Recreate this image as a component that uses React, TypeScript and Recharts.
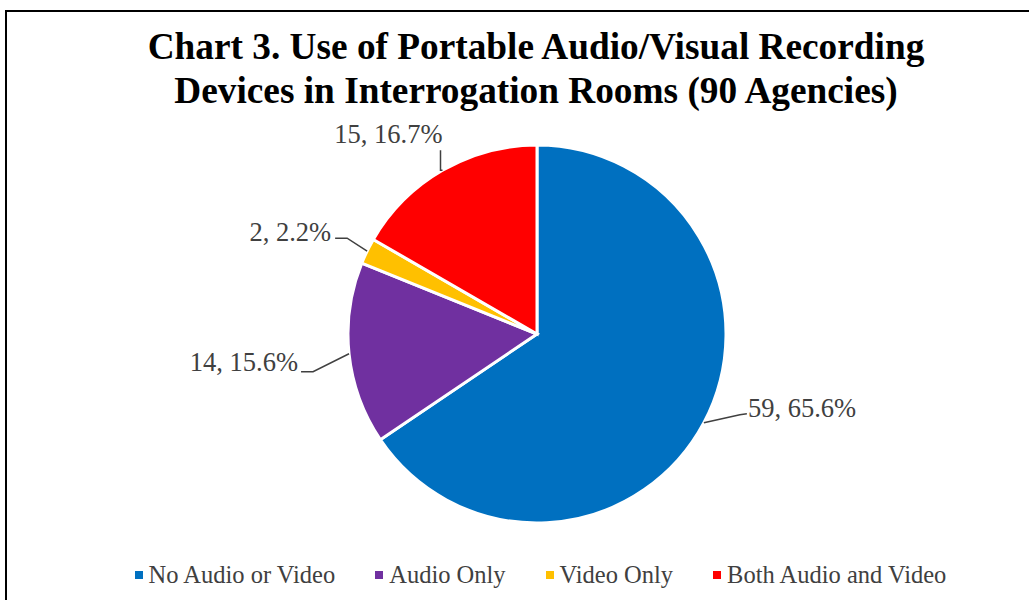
import React from 'react'
import { PieChart, Pie, Cell, Legend } from 'recharts'

const CATEGORIES = ['No Audio or Video', 'Audio Only', 'Video Only', 'Both Audio and Video']
const COUNTS = [59, 14, 2, 15]
const PERCENTS = ['65.6%', '15.6%', '2.2%', '16.7%']
const COLORS = ['#0070C0', '#7030A0', '#FFC000', '#FF0000']

// leader line / label placement relative to the slice's outer mid point
const LABEL_LAYOUT = [
  { leader: [[36, -8], [43, -9]], text: [44, -6], anchor: 'start' },
  { leader: [[-36, 18], [-48, 18]], text: [-51, 17], anchor: 'end' },
  { leader: [[-20, -13], [-32, -13]], text: [-36, -10], anchor: 'end' },
  { leader: [[-2, 0], [-2, -20]], text: [0, -27], anchor: 'end' },
]

const FONT = '"Liberation Serif", "Times New Roman", serif'

const data = CATEGORIES.map((name, i) => ({ name, value: COUNTS[i], pct: PERCENTS[i] }))

const RADIAN = Math.PI / 180

const renderLabel = (props: any) => {
  const { cx, cy, midAngle, outerRadius, index, value } = props
  const px = cx + outerRadius * Math.cos(-midAngle * RADIAN)
  const py = cy + outerRadius * Math.sin(-midAngle * RADIAN)
  const lay = LABEL_LAYOUT[index]
  const pts = [[px, py], ...lay.leader.map(([dx, dy]) => [px + dx, py + dy])]
  return (
    <g key={`lbl-${index}`}>
      <polyline
        points={pts.map(p => p.join(',')).join(' ')}
        fill="none"
        stroke="#404040"
        strokeWidth={1.5}
      />
      <text
        x={px + lay.text[0]}
        y={py + lay.text[1]}
        textAnchor={lay.anchor as any}
        fill="#404040"
        fontFamily={FONT}
        fontSize={26.5}
      >
        {`${value}, ${data[index].pct}`}
      </text>
    </g>
  )
}

const renderLegend = () => (
  <div style={{ display: 'flex', justifyContent: 'center', gap: 40, fontFamily: FONT, fontSize: 24.5, color: '#404040' }}>
    {CATEGORIES.map((c, i) => (
      <div key={c} style={{ display: 'flex', alignItems: 'center' }}>
        <span style={{ width: 8, height: 8, background: COLORS[i], marginRight: 6, display: 'inline-block' }} />
        <span>{c}</span>
      </div>
    ))}
  </div>
)

export default function App() {
  return (
    <div style={{ position: 'fixed', left: 0, top: 0, width: 1029, height: 600, background: '#fff', overflow: 'hidden' }}>
      <div
        style={{
          position: 'absolute', left: 5, top: 10, width: 1100, height: 700,
          border: '2px solid #000', boxSizing: 'border-box',
        }}
      />
      <div
        style={{
          position: 'absolute', left: 0, top: 25, width: 1072, textAlign: 'center',
          fontFamily: FONT, fontWeight: 'bold', fontSize: 37.3, lineHeight: '44px', color: '#000',
        }}
      >
        Chart 3. Use of Portable Audio/Visual Recording
        <br />
        Devices in Interrogation Rooms (90 Agencies)
      </div>
      <div style={{ position: 'absolute', left: 0, top: 0 }}>
        <PieChart width={1029} height={600} margin={{ top: 0, right: 0, bottom: 0, left: 0 }}>
          <Pie
            data={data}
            dataKey="value"
            nameKey="name"
            cx={537}
            cy={334}
            outerRadius={189}
            startAngle={90}
            endAngle={-270}
            stroke="#fff"
            strokeWidth={3}
            label={renderLabel}
            labelLine={false}
            isAnimationActive={false}
          >
            {data.map((d, i) => (
              <Cell key={d.name} fill={COLORS[i]} />
            ))}
          </Pie>
          <Legend
            content={renderLegend}
            wrapperStyle={{ top: 561, left: 26, width: 1029 }}
          />
        </PieChart>
      </div>
    </div>
  )
}
